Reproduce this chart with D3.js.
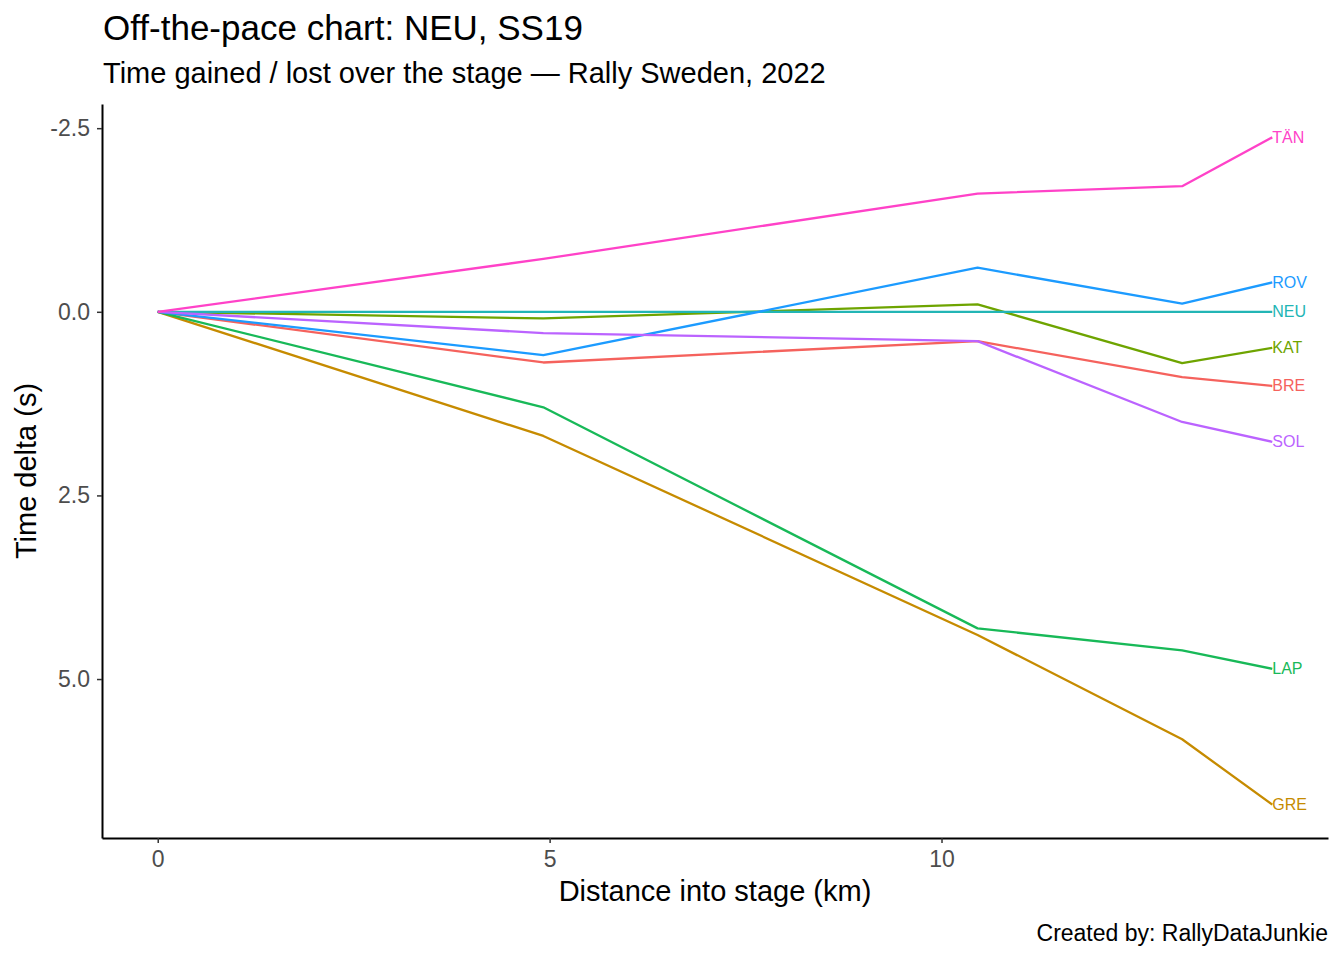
<!DOCTYPE html>
<html>
<head>
  <meta charset="utf-8">
  <style>
    body { margin: 0; background: #fff; font-family: 'Liberation Sans', Arial, sans-serif; }
    .title { font-size: 35px; fill: #000; }
    .subtitle { font-size: 29px; fill: #000; }
    .axis-title { font-size: 29px; fill: #000; }
    .caption { font-size: 23px; fill: #000; text-anchor: end; }
    .tick text { font-size: 23px; fill: #4d4d4d; font-family: 'Liberation Sans', Arial, sans-serif; }
    .tick line { stroke: #333; stroke-width: 1.5px; }
    .domain { stroke: #000; stroke-width: 2px; }
    .driver { fill: none; stroke-width: 2.3px; stroke-linejoin: round; }
    .end-label { font-size: 16px; dominant-baseline: central; }
  </style>
</head>
<body>
  <script src="https://d3js.org/d3.v7.min.js"></script>
  <script>
  // data
  var distances = [0, 4.92, 10.46, 13.07, 14.22]
  var drivers = ["BRE", "GRE", "KAT", "LAP", "NEU", "ROV", "SOL", "TÄN"]
  var colours = ["#F5625D", "#C68B00", "#6EA400", "#18B958", "#22B5B5", "#1C9BFF", "#BB63FF", "#FF42C8"]
  var BRE = [0, 0.69, 0.40, 0.89, 1.01]
  var GRE = [0, 1.69, 4.40, 5.82, 6.71]
  var KAT = [0, 0.09, -0.10, 0.70, 0.49]
  var LAP = [0, 1.30, 4.31, 4.61, 4.86]
  var NEU = [0, 0, 0, 0, 0]
  var ROV = [0, 0.59, -0.60, -0.11, -0.40]
  var SOL = [0, 0.29, 0.40, 1.50, 1.77]
  var TAN = [0, -0.72, -1.61, -1.71, -2.375]
  var deltas = [BRE, GRE, KAT, LAP, NEU, ROV, SOL, TAN]
  var xTicks = [0, 5, 10]
  var yTicks = [-2.5, 0, 2.5, 5]
  var yTickLabels = ["-2.5", "0.0", "2.5", "5.0"]

  // layout
  var width = 1344
  var height = 960
  var margin = {top: 104, right: 16, bottom: 122, left: 102}

  var svg = d3.select("body").append("svg")
    .attr("width", width)
    .attr("height", height)

  // ggplot style 5% expansion
  var xMin = d3.min(distances), xMax = d3.max(distances)
  var xPad = (xMax - xMin) * 0.05
  var x = d3.scaleLinear()
    .domain([xMin - xPad, xMax + xPad])
    .range([margin.left, width - margin.right])

  var allVals = deltas.flat()
  var yMin = d3.min(allVals), yMax = d3.max(allVals)
  var yPad = (yMax - yMin) * 0.05
  var y = d3.scaleLinear()
    .domain([yMin - yPad, yMax + yPad])
    .range([margin.top, height - margin.bottom])

  // axes
  svg.append("g")
    .attr("transform", "translate(0," + (height - margin.bottom) + ")")
    .call(d3.axisBottom(x).tickValues(xTicks).tickSize(5).tickPadding(8).tickSizeOuter(0).tickFormat(d3.format("d")))
  svg.append("g")
    .attr("transform", "translate(" + margin.left + ",0)")
    .call(d3.axisLeft(y).tickValues(yTicks).tickSize(5).tickPadding(7).tickSizeOuter(0)
      .tickFormat(function(d, i) { return yTickLabels[i] }))

  // lines
  var line = d3.line()
    .x(function(d, i) { return x(distances[i]) })
    .y(function(d) { return y(d) })

  drivers.forEach(function(name, k) {
    svg.append("path")
      .attr("class", "driver")
      .attr("stroke", colours[k])
      .attr("d", line(deltas[k]))
  })

  // end labels
  drivers.forEach(function(name, k) {
    var last = deltas[k].length - 1
    svg.append("text")
      .attr("class", "end-label")
      .attr("fill", colours[k])
      .attr("x", x(distances[last]))
      .attr("y", y(deltas[k][last]))
      .text(name)
  })

  // titles
  svg.append("text").attr("class", "title").attr("x", 103).attr("y", 40).text("Off-the-pace chart: NEU, SS19")
  svg.append("text").attr("class", "subtitle").attr("x", 103).attr("y", 83).text("Time gained / lost over the stage — Rally Sweden, 2022")
  svg.append("text").attr("class", "axis-title")
    .attr("x", (margin.left + width - margin.right) / 2)
    .attr("y", 901)
    .attr("text-anchor", "middle")
    .text("Distance into stage (km)")
  svg.append("text").attr("class", "axis-title")
    .attr("transform", "translate(36," + ((margin.top + height - margin.bottom) / 2) + ") rotate(-90)")
    .attr("text-anchor", "middle")
    .text("Time delta (s)")
  svg.append("text").attr("class", "caption").attr("x", 1328).attr("y", 941).text("Created by: RallyDataJunkie")
  </script>
</body>
</html>
